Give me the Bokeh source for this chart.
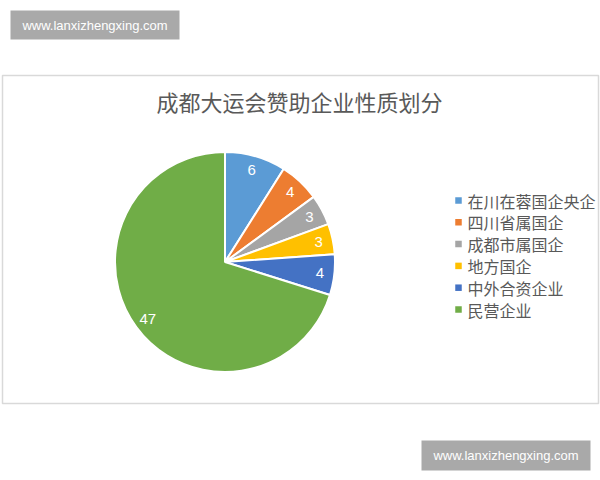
import math
from bokeh.plotting import figure
from bokeh.models import Range1d, ColumnDataSource
from bokeh.core.properties import value
from bokeh.embed import file_html
from bokeh.resources import INLINE

# ---- data ----
categories = ["在川在蓉国企央企", "四川省属国企", "成都市属国企", "地方国企", "中外合资企业", "民营企业"]
counts = [6, 4, 3, 3, 4, 47]
colors = ["#5B9BD5", "#ED7D31", "#A5A5A5", "#FFC000", "#4472C4", "#70AD47"]
title_text = "成都大运会赞助企业性质划分"
watermark = "www.lanxizhengxing.com"

# ---- page geometry (page pixel coords, y measured from top) ----
W, H = 600, 480
def Y(y):  # page y (top-down) -> data y
    return H - y

p = figure(width=W, height=H, output_backend="svg", toolbar_location=None,
           x_range=Range1d(0, W), y_range=Range1d(0, H),
           min_border=0, outline_line_color=None)
p.axis.visible = False
p.grid.visible = False
p.background_fill_color = "white"
p.border_fill_color = "white"

# chart frame
p.quad(left=[2], right=[598], top=[Y(75)], bottom=[Y(403)],
       fill_color="white", line_color="#d9d9d9", line_width=1.5)

# watermark boxes
p.quad(left=[10], right=[179], top=[Y(10)], bottom=[Y(39)],
       fill_color="#a9a9a9", line_color=None)
p.text(x=[94.5], y=[Y(24.5)], text=[watermark], text_color="white",
       text_font=value("Liberation Sans"), text_font_size="13px",
       text_align="center", text_baseline="middle")
p.quad(left=[421], right=[590], top=[Y(440)], bottom=[Y(470)],
       fill_color="#a9a9a9", line_color=None)
p.text(x=[505.5], y=[Y(455)], text=[watermark], text_color="white",
       text_font=value("Liberation Sans"), text_font_size="13px",
       text_align="center", text_baseline="middle")

# title
p.text(x=[299], y=[Y(100)], text=[title_text], text_color="#595959",
       text_font=value("Noto Sans CJK SC"), text_font_size="22px",
       text_align="center", text_baseline="middle")

# pie
cx, cy, R = 224.5, Y(261.5), 110
total = sum(counts)
starts, ends, lx, ly = [], [], [], []
cum = 0
for c in counts:
    a0 = math.pi / 2 - 2 * math.pi * cum / total
    cum += c
    a1 = math.pi / 2 - 2 * math.pi * cum / total
    starts.append(a1)
    ends.append(a0)
    mid = (a0 + a1) / 2
    lr = R * 0.87
    lx.append(cx + lr * math.cos(mid))
    ly.append(cy + lr * math.sin(mid))

src = ColumnDataSource(dict(start=starts, end=ends, color=colors,
                            lx=lx, ly=ly, lab=[str(c) for c in counts]))
p.wedge(x=cx, y=cy, radius=R, start_angle="start", end_angle="end",
        fill_color="color", line_color="white", line_width=2, source=src)
p.text(x="lx", y="ly", text="lab", source=src, text_color="white",
       text_font=value("Liberation Sans"), text_font_size="15px",
       text_align="center", text_baseline="middle")

# legend
ly0, lstep = 200, 21.8
leg_y = [Y(ly0 + i * lstep) for i in range(len(categories))]
lsrc = ColumnDataSource(dict(y=leg_y, color=colors, name=categories))
p.rect(x=458, y="y", width=6.5, height=6.5, fill_color="color",
       line_color=None, source=lsrc)
p.text(x=467, y="y", text="name", source=lsrc, text_color="#595959",
       text_font=value("Noto Sans CJK SC"), text_font_size="16px",
       text_align="left", text_baseline="middle")

open("out.html", "w").write(file_html(p, INLINE))
